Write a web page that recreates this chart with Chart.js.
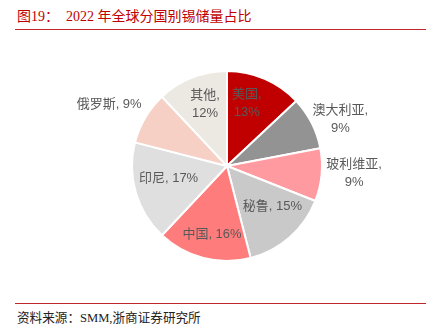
<!DOCTYPE html>
<html>
<head>
<meta charset="utf-8">
<script src="https://cdn.jsdelivr.net/npm/chart.js@4/dist/chart.umd.min.js"></script>
<style>
  body { margin: 0; background: #fff; }
  #wrap { position: relative; width: 431px; height: 334px; overflow: hidden; }
  .title {
    position: absolute; left: 17px; top: 5px;
    font-family: "Liberation Serif", "Noto Sans CJK SC", serif;
    font-size: 14px; color: #c00000; white-space: pre;
  }
  .rule { position: absolute; left: 15px; width: 411px; height: 1px; background: #c0282d; }
  .source {
    position: absolute; left: 17px; top: 307px;
    font-family: "Liberation Serif", "Noto Sans CJK SC", serif;
    font-size: 12.6px; color: #222;
  }
  #chart { position: absolute; left: 0; top: 40px; }
</style>
</head>
<body>
<div id="wrap">
  <div class="title">图19：  2022 年全球分国别锡储量占比</div>
  <div class="rule" style="top:29px"></div>
  <canvas id="chart" width="431" height="260"></canvas>
  <div class="rule" style="top:303px"></div>
  <div class="source">资料来源：SMM,浙商证券研究所</div>
</div>
<script>
var countries = ["美国", "澳大利亚", "玻利维亚", "秘鲁", "中国", "印尼", "俄罗斯", "其他"];
var shares = [13, 9, 9, 15, 16, 17, 9, 12];
var sliceColors = ["#c00000", "#939393", "#ff9ba0", "#c9c9c9", "#ff7c7c", "#dfdfdf", "#f6cfc5", "#ece8e2"];

// how each label is broken into lines
var labelLines = [
    ["美国,", "13%"],
    ["澳大利亚,", "9%"],
    ["玻利维亚,", "9%"],
    ["秘鲁, 15%"],
    ["中国, 16%"],
    ["印尼, 17%"],
    ["俄罗斯, 9%"],
    ["其他,", "12%"]
];
// label distance from centre (fraction of radius) and angle nudge in degrees
var labelRadius = [0.69, 1.29, 1.34, 0.64, 0.735, 0.63, 1.40, 0.69];
var labelNudge = [-5.8, 4.7, -2, -7, -2, 3.8, -3, 2];

var pieLabels = {
    id: 'pieLabels',
    afterDatasetsDraw: function(chart) {
        var ctx = chart.ctx;
        var meta = chart.getDatasetMeta(0);
        ctx.save();
        ctx.font = '13px "Liberation Sans", "Noto Sans CJK SC", sans-serif';
        ctx.fillStyle = '#595959';
        ctx.textAlign = 'center';
        ctx.textBaseline = 'middle';
        meta.data.forEach(function(arc, i) {
            var p = arc.getProps(['x', 'y', 'startAngle', 'endAngle', 'outerRadius']);
            var mid = (p.startAngle + p.endAngle) / 2 + labelNudge[i] * Math.PI / 180;
            var r = p.outerRadius * labelRadius[i];
            var cx = p.x + Math.cos(mid) * r;
            var cy = p.y + Math.sin(mid) * r;
            var lines = labelLines[i];
            var lh = 18;
            var y0 = cy - (lines.length - 1) * lh / 2;
            lines.forEach(function(t, k) {
                ctx.fillText(t, cx, y0 + k * lh);
            });
        });
        ctx.restore();
    }
};

new Chart(document.getElementById('chart'), {
    type: 'pie',
    data: {
        labels: countries,
        datasets: [{
            data: shares,
            backgroundColor: sliceColors,
            borderColor: '#ffffff',
            borderWidth: 2,
            hoverOffset: 0
        }]
    },
    options: {
        responsive: false,
        animation: false,
        layout: { padding: { left: 23, right: 0, top: 30, bottom: 38 } },
        plugins: {
            legend: { display: false },
            tooltip: { enabled: false }
        }
    },
    plugins: [pieLabels]
});
</script>
</body>
</html>
